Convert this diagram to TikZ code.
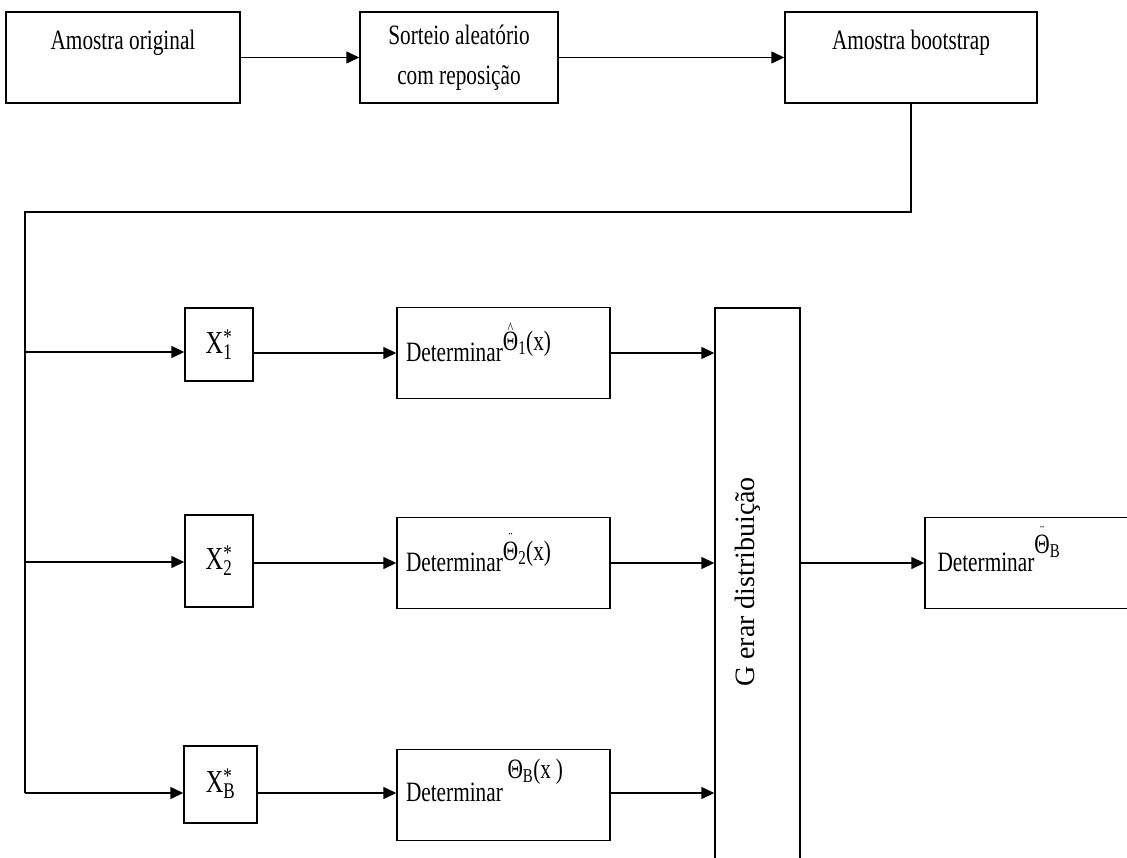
\documentclass[tikz,border=0pt]{standalone}
\usepackage{fontspec}
\setmainfont{Liberation Serif}[FakeStretch=0.76]
\newfontfamily\largo{Liberation Serif}
\usetikzlibrary{arrows.meta, positioning, calc}

\newsavebox\basetheta
\newcommand{\acima}[2]{\sbox\basetheta{#2}\makebox[0pt][l]{\makebox[\wd\basetheta]{\raisebox{17pt}{\fontsize{16}{16}\selectfont #1}}}\usebox\basetheta}
\newcommand{\xamostra}[1]{X\rlap{\textsuperscript{*}}\textsubscript{#1}}

\begin{document}
\begin{tikzpicture}[x=1pt, y=-1pt,
        every node/.style={font=\fontsize{28}{30}\selectfont},
        bloco/.style={draw, line width=1.4pt, inner sep=4pt, minimum height=91},
        topo/.style={text height=34pt, text depth=49pt},
        amostra/.style={bloco, minimum height=73, font=\fontsize{32}{34}\selectfont},
        calculo/.style={bloco, text width=195pt, align=left, minimum width=213, text height=50pt, text depth=33pt},
        seta/.style={-{Triangle[length=13pt,width=12pt]}, line width=1.4pt},
        linha/.style={line width=1.4pt}
    ]
        \clip (0,0) rectangle (1127,858);
        \fill[white] (0,0) rectangle (1127,858);
        % linha de cima
        \node[bloco, topo, minimum width=234] (original) at (123,57.5) {Amostra original};
        \node[bloco, minimum width=198, align=center, font=\fontsize{28}{40}\selectfont] (sorteio) at (459,57.5) {Sorteio aleatório\\com reposição};
        \node[bloco, topo, minimum width=252] (bootstrap) at (911,57.5) {Amostra bootstrap};
        \draw[seta] (original) -- (sorteio);
        \draw[seta] (sorteio) -- (bootstrap);
        % amostras
        \node[amostra, minimum width=68] (x1) at (219,344.5) {\xamostra{1}};
        \node[amostra, minimum width=68, minimum height=92] (x2) at (219,561) {\xamostra{2}};
        \node[amostra, minimum width=73, minimum height=77] (xb) at (220.5,784.5) {\raisebox{8pt}{\xamostra{B}}};
        % estimativas
        \node[calculo] (d1) at (503.5,353) {Determinar\raisebox{11pt}{\acima{\^{}}{Θ}\textsubscript{1}(x)}};
        \node[calculo] (d2) at (503.5,563) {Determinar\raisebox{11pt}{\acima{¨}{Θ}\textsubscript{2}(x)}};
        \node[calculo, text height=48pt, text depth=35pt] (d3) at (503.5,795) {Determinar\raisebox{23pt}{\,Θ\textsubscript{B}(x\,)}};
        \node[bloco, minimum width=85, minimum height=600] (gerar) at (757.5,608) {};
        \node[rotate=90, font=\largo\fontsize{28}{30}\selectfont] (rotulo) at (748,582) {G erar distribuição};
        \node[bloco, text width=190pt, align=left, minimum width=215, text height=50pt, text depth=33pt] (final) at (1032.5,563) {Determinar\raisebox{18pt}{\acima{¨}{Θ}\textsubscript{B}}};
        % ligacoes
        \coordinate (canto) at (25,212);
        \coordinate (r1) at (25,352);
        \coordinate (r2) at (25,562);
        \coordinate (r3) at (25,793);
        \draw[linha] (bootstrap.south) |- (canto) -- (r3);
        \draw[seta] (r1) -- (r1 -| x1.west);
        \draw[seta] (r2) -- (r2 -| x2.west);
        \draw[seta] (r3) -- (r3 -| xb.west);
        \draw[seta] (x1.east |- d1.west) -- (d1.west);
        \draw[seta] (x2.east |- d2.west) -- (d2.west);
        \draw[seta] (xb.east |- r3) -- (r3 -| d3.west);
        \draw[seta] (d1.east) -- (d1.east -| gerar.west);
        \draw[seta] (d2.east) -- (d2.east -| gerar.west);
        \draw[seta] (r3 -| d3.east) -- (r3 -| gerar.west);
        \draw[seta] (gerar.east |- final.west) -- (final.west);
    \end{tikzpicture}
\end{document}
